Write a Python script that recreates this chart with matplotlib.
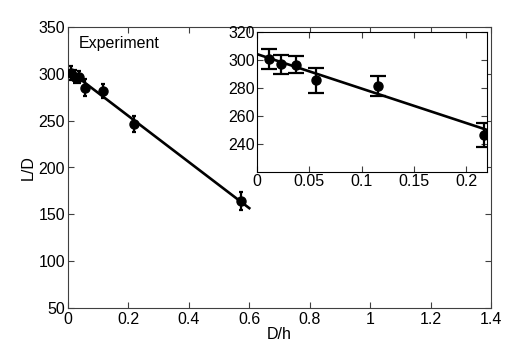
import numpy as np
import matplotlib
matplotlib.use('Agg')
import matplotlib.pyplot as plt

plt.rcParams['font.family'] = ['Liberation Sans', 'DejaVu Sans']

# measured points
dh = [0.0115, 0.0228, 0.0372, 0.0561, 0.116, 0.217, 0.571]
ld = [300.7, 297.1, 296.6, 285.4, 281.6, 246.3, 164.2]
err = [7.2, 6.8, 6.0, 8.7, 7.3, 8.4, 9.6]

# linear fit line
fit_x = [0.0, 0.6]
fit_y = [304.2, 156.6]

main_xticks = [0, 0.2, 0.4, 0.6, 0.8, 1.0, 1.2, 1.4]
main_xlabels = ['0', '0.2', '0.4', '0.6', '0.8', '1', '1.2', '1.4']
main_yticks = [50, 100, 150, 200, 250, 300, 350]
ins_xticks = [0, 0.05, 0.1, 0.15, 0.2]
ins_xlabels = ['0', '0.05', '0.1', '0.15', '0.2']
ins_yticks = [240, 260, 280, 300, 320]

spine_col = '#404040'
fs = 11.5

fig = plt.figure(figsize=(5.23, 3.52), dpi=100)
W, H = 523, 352
ax = fig.add_axes([68 / W, 1 - 308 / H, (491 - 68) / W, (308 - 27) / H])

ax.plot(fit_x, fit_y, color='black', lw=1.9, zorder=2)
ax.errorbar(dh, ld, yerr=err, fmt='o', color='black', ms=6.5, elinewidth=1.6,
            capsize=1.5, capthick=1.6, zorder=3)
ax.set_xlim(0, 1.4)
ax.set_ylim(50, 350)
ax.set_xticks(main_xticks)
ax.set_xticklabels(main_xlabels)
ax.set_yticks(main_yticks)
ax.tick_params(direction='in', top=True, right=True, labelsize=fs, length=4,
               color=spine_col)
ax.tick_params(axis='x', pad=3)
ax.tick_params(axis='y', pad=2)
for s in ax.spines.values():
    s.set_color(spine_col)
ax.set_xlabel('D/h', fontsize=fs, labelpad=0)
ax.set_ylabel('L/D', fontsize=fs, labelpad=2)
ax.text(0.025, 0.94, 'Experiment', transform=ax.transAxes, fontsize=fs,
        ha='left', va='center')

# inset
axi = fig.add_axes([257 / W, 1 - 172 / H, (487 - 257) / W, (172 - 32) / H])
axi.plot(fit_x, fit_y, color='black', lw=1.9, zorder=2)
axi.errorbar(dh, ld, yerr=err, fmt='o', color='black', ms=6.5, elinewidth=1.6,
             capsize=6, capthick=1.6, zorder=3)
axi.set_xlim(0, 0.22)
axi.set_ylim(220, 320)
axi.set_xticks(ins_xticks)
axi.set_xticklabels(ins_xlabels)
axi.set_yticks(ins_yticks)
axi.tick_params(direction='in', top=True, right=True, labelsize=fs, length=4,
                color=spine_col, pad=1.5)
for s in axi.spines.values():
    s.set_color('black')

fig.savefig('out.png', dpi=100)
